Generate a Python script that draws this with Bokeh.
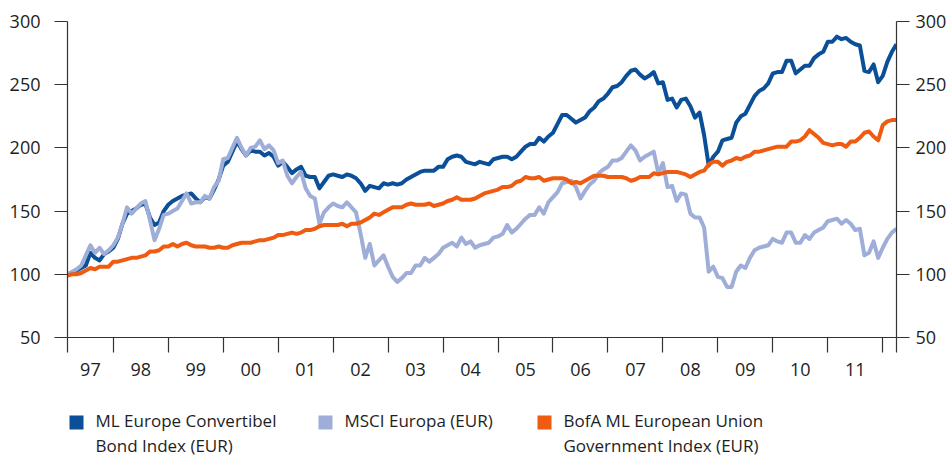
import pandas as pd
from bokeh.plotting import figure
from bokeh.layouts import column
from bokeh.models import LinearAxis, FixedTicker, Range1d
from bokeh.core.properties import value
from bokeh.embed import file_html
from bokeh.resources import INLINE

# ---------------- data (monthly, Mar 1997 .. Apr 2012) ----------------
START = "1997-03"
END = "2012-04"

conv_bond = [
    100, 101, 103, 105, 107, 117, 113, 111, 116, 118,
    121, 128, 140, 148, 150, 152, 155, 156, 145, 139, 141, 150,
    155, 158, 160, 162, 163, 164, 160, 157, 161, 160, 167, 175,
    186, 189, 197, 205, 199, 194, 198, 197, 197, 194, 196, 193,
    186, 189, 185, 180, 183, 185, 178, 177, 177, 168, 173, 178,
    179, 178, 177, 179, 178, 176, 172, 166, 170, 169, 168, 172,
    171, 172, 171, 172, 175, 177, 179, 181, 182, 182, 182, 185,
    185, 191, 193, 194, 193, 189, 188, 187, 189, 188, 187, 191,
    192, 193, 193, 191, 193, 197, 201, 203, 203, 208, 205, 209,
    212, 219, 226, 226, 223, 220, 222, 224, 229, 232, 237, 239,
    243, 248, 249, 252, 257, 261, 262, 258, 255, 257, 260, 251,
    252, 238, 239, 232, 238, 239, 233, 224, 228, 210, 186, 193,
    197, 206, 207, 208, 220, 225, 227, 234, 241, 245, 247, 251,
    259, 260, 260, 269, 269, 259, 262, 265, 265, 271, 274, 276,
    284, 284, 288, 286, 287, 284, 282, 281, 261, 260, 266, 252,
    257, 268, 276, 282,
]

msci_europe = [
    100, 102, 104, 107, 115, 123, 117, 121, 116, 119,
    123, 129, 140, 153, 148, 152, 156, 158, 143, 127, 136, 147,
    148, 150, 152, 158, 164, 156, 157, 157, 162, 160, 169, 174,
    191, 192, 200, 208, 200, 194, 200, 201, 206, 199, 202, 198,
    188, 190, 178, 172, 177, 181, 168, 162, 160, 140, 149, 153,
    156, 154, 153, 157, 153, 149, 132, 113, 124, 107, 111, 115,
    106, 98, 94, 97, 101, 101, 107, 107, 113, 110, 113, 116,
    121, 123, 125, 122, 129, 124, 126, 121, 123, 124, 125, 129,
    130, 132, 139, 133, 136, 140, 144, 147, 147, 153, 148, 157,
    161, 165, 172, 173, 174, 169, 160, 166, 171, 174, 180, 183,
    185, 190, 190, 192, 197, 202, 198, 190, 193, 195, 197, 180,
    188, 169, 170, 158, 164, 163, 148, 145, 145, 137, 102, 106,
    98, 97, 90, 90, 102, 107, 105, 113, 119, 121, 122, 123,
    128, 126, 125, 133, 133, 125, 125, 131, 128, 133, 135, 137,
    142, 143, 144, 140, 143, 140, 135, 136, 115, 117, 126, 113,
    121, 128, 133, 136,
]

eu_gov = [
    99, 100, 100, 101, 103, 105, 104, 106, 106, 106,
    110, 110, 111, 112, 113, 113, 114, 115, 118, 118, 119, 122,
    122, 124, 122, 124, 125, 123, 122, 122, 122, 121, 121, 122,
    121, 121, 123, 124, 125, 125, 125, 126, 127, 127, 128, 129,
    131, 131, 132, 133, 132, 133, 135, 135, 136, 138, 139, 139,
    139, 139, 140, 138, 140, 140, 141, 143, 145, 148, 147, 149,
    151, 153, 153, 153, 155, 156, 155, 155, 155, 156, 154, 155,
    156, 158, 159, 161, 159, 159, 159, 160, 162, 164, 165, 166,
    167, 169, 169, 170, 173, 174, 177, 176, 176, 177, 174, 175,
    176, 176, 176, 175, 172, 173, 172, 174, 176, 178, 178, 178,
    177, 177, 177, 177, 176, 174, 175, 177, 177, 177, 180, 179,
    180, 181, 181, 181, 180, 179, 177, 179, 181, 182, 187, 189,
    189, 186, 189, 190, 192, 191, 193, 194, 197, 197, 198, 199,
    200, 201, 201, 201, 205, 205, 206, 209, 214, 211, 208, 204,
    203, 202, 203, 203, 201, 205, 205, 208, 212, 213, 209, 206,
    218, 221, 222, 222,
]

year_labels = ["97", "98", "99", "00", "01", "02", "03", "04", "05",
               "06", "07", "08", "09", "10", "11"]
y_ticks = [50, 100, 150, 200, 250, 300]

legend_lines = [
    ("ML Europe Convertibel", "Bond Index (EUR)"),
    ("MSCI Europa (EUR)", ""),
    ("BofA ML European Union", "Government Index (EUR)"),
]
colors = ["#0a4f97", "#9eaed8", "#ef5b10"]

# ---------------- x positions: months since Jan 1997 ----------------
dates = pd.date_range(START, END, freq="MS")
mx = [(d.year - 1997) * 12 + d.month - 1 for d in dates]
x0, x1 = mx[0], mx[-1]
year_bounds = [(y - 1997) * 12 for y in range(1998, 2013)]
label_pos = []
for i, _ in enumerate(year_labels):
    label_pos.append((max(i * 12, x0) + (i + 1) * 12) // 2 if i == 0 else i * 12 + 6)

FONT = "Open Sans"
TXT = "#1e1e1e"
AX = "#333333"
BORDER_L, BORDER_R = 67, 55
W = 951

p = figure(width=W, height=405, output_backend="svg", toolbar_location=None,
           x_range=Range1d(x0, x1), y_range=Range1d(50, 300),
           x_axis_location=None, y_axis_location=None,
           min_border_left=BORDER_L, min_border_right=BORDER_R,
           min_border_top=21, min_border_bottom=68)
p.outline_line_color = None
p.xgrid.visible = False
p.ygrid.visible = False
p.background_fill_color = "white"
p.border_fill_color = "white"

for vals, col in zip([conv_bond, msci_europe, eu_gov], colors):
    p.line(mx, vals, line_color=col, line_width=4, line_join="round")


def style_y(ax, standoff):
    ax.ticker = FixedTicker(ticks=y_ticks)
    ax.axis_line_color = AX
    ax.axis_line_width = 1.2
    ax.major_tick_line_color = AX
    ax.major_tick_line_width = 1.2
    ax.major_tick_out = 13
    ax.major_tick_in = 0
    ax.minor_tick_out = 0
    ax.minor_tick_in = 0
    ax.major_label_standoff = standoff
    ax.major_label_text_font = FONT
    ax.major_label_text_font_size = "18px"
    ax.major_label_text_color = TXT


yl = LinearAxis()
style_y(yl, 14)
p.add_layout(yl, "left")
yr = LinearAxis()
style_y(yr, 6)
p.add_layout(yr, "right")

xb = LinearAxis(ticker=FixedTicker(ticks=label_pos, minor_ticks=[x0] + year_bounds + [x1]))
xb.major_label_overrides = {pos: lab for pos, lab in zip(label_pos, year_labels)}
xb.axis_line_color = AX
xb.axis_line_width = 1.2
xb.major_tick_out = 0
xb.major_tick_in = 0
xb.major_tick_line_color = None
xb.minor_tick_out = 15
xb.minor_tick_in = 0
xb.minor_tick_line_color = AX
xb.minor_tick_line_width = 1.2
xb.major_label_standoff = 10
xb.major_label_text_font = FONT
xb.major_label_text_font_size = "18px"
xb.major_label_text_color = TXT
p.add_layout(xb, "below")

# ---------------- legend strip (pixel layout below the chart) ----------------
LEG_H = 52
leg = figure(width=W, height=LEG_H, output_backend="svg", toolbar_location=None,
             x_range=Range1d(BORDER_L, W - BORDER_R), y_range=Range1d(LEG_H, 0),
             x_axis_location=None, y_axis_location=None,
             min_border_left=BORDER_L, min_border_right=BORDER_R,
             min_border_top=0, min_border_bottom=0)
leg.outline_line_color = None
leg.xgrid.visible = False
leg.ygrid.visible = False
leg.background_fill_color = "white"
leg.border_fill_color = "white"

sq_left = [69, 318, 537]
sq_size = 14
sq_top = 10
text_gap = 26
row_y = [15, 40]
leg.quad(left=sq_left, right=[s + sq_size for s in sq_left],
         top=[sq_top] * 3, bottom=[sq_top + sq_size] * 3,
         fill_color=colors, line_color=None)
tx, ty, tt = [], [], []
for (l1, l2), sx in zip(legend_lines, sq_left):
    for txt, yy in ((l1, row_y[0]), (l2, row_y[1])):
        if txt:
            tx.append(sx + text_gap)
            ty.append(yy)
            tt.append(txt)
leg.text(x=tx, y=ty, text=tt, text_font=value(FONT), text_font_size="17px",
         text_color=TXT, text_baseline="middle", text_align="left")

layout = column(p, leg, spacing=0)
open("out.html", "w").write(file_html(layout, INLINE))
